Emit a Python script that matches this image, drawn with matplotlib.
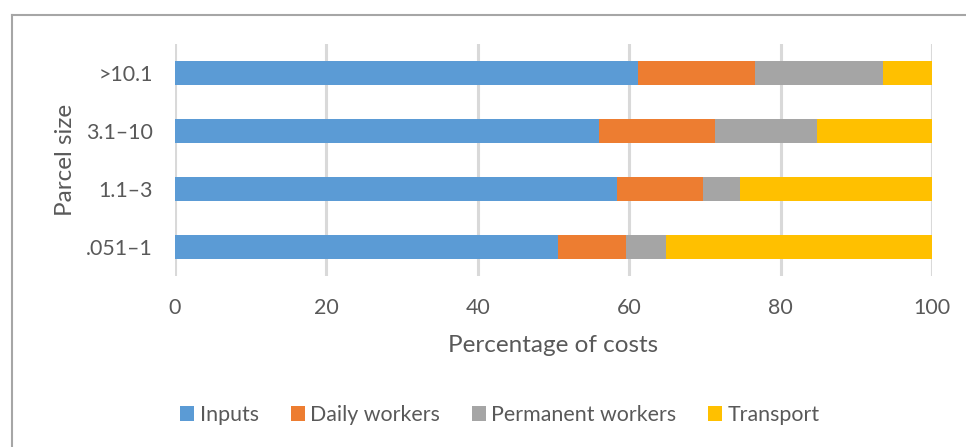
#!/usr/bin/env python3

"""
Share of production costs by parcel size, stacked horizontal bars.
"""

import matplotlib
matplotlib.use('Agg')
from matplotlib import pyplot as plt
from matplotlib.lines import Line2D
import numpy as np

plt.rcParams['font.family'] = ['Lato', 'DejaVu Sans']
plt.rcParams['font.size'] = 15

#### DATA ####
parcel_sizes = ['.051\u20131', '1.1\u20133', '3.1\u201310', '>10.1']
inputs = [50.6, 58.4, 56.0, 61.1]
daily_workers = [9.0, 11.3, 15.4, 15.5]
permanent_workers = [5.3, 4.9, 13.4, 16.9]
transport = [35.1, 25.4, 15.2, 6.5]

series = [
    ('Inputs', inputs, '#5b9bd5'),
    ('Daily workers', daily_workers, '#ed7d31'),
    ('Permanent workers', permanent_workers, '#a5a5a5'),
    ('Transport', transport, '#ffc000'),
]
text_color = '#595959'

fig = plt.figure(figsize=(9.66, 4.47), dpi=100)
ax = fig.add_axes([175 / 966, 1 - 276 / 447, (932 - 175) / 966, (276 - 44) / 447])

y = np.arange(len(parcel_sizes))
left = np.zeros(len(parcel_sizes))
for name, values, color in series:
    ax.barh(y, values, left=left, height=0.41, color=color, label=name, zorder=3)
    left += np.array(values)

ax.set_xlim(0, 100)
ax.set_ylim(-0.5, len(parcel_sizes) - 0.5)
ax.set_xticks(range(0, 101, 20))
ax.set_yticks(y)
ax.set_yticklabels(parcel_sizes)
ax.xaxis.grid(True, color='#d9d9d9', linewidth=2.2, zorder=0)
for s in ax.spines.values():
    s.set_visible(False)
ax.tick_params(axis='both', length=0, colors=text_color, labelsize=15.4)
ax.tick_params(axis='x', pad=16)
ax.tick_params(axis='y', pad=16)

ax.set_xlabel('Percentage of costs', color=text_color, fontsize=17.5, labelpad=12)
ax.set_ylabel('Parcel size', color=text_color, fontsize=17.5, labelpad=7)

ax.legend(loc='center', bbox_to_anchor=(500 / 966, 1 - 415 / 447),
          bbox_transform=fig.transFigure, ncol=4, frameon=False,
          fontsize=15.4, labelcolor=text_color, handlelength=0.65,
          handleheight=0.65, handletextpad=0.25, columnspacing=1.5)

# chart area frame (top and left edges visible)
frame = '#a6a6a6'
fig.add_artist(Line2D([11.5 / 966, 1], [1 - 15 / 447] * 2, color=frame, linewidth=1.5,
                      transform=fig.transFigure))
fig.add_artist(Line2D([11.5 / 966] * 2, [0, 1 - 15 / 447], color=frame, linewidth=1.5,
                      transform=fig.transFigure))

fig.savefig('out.png', dpi=100)
